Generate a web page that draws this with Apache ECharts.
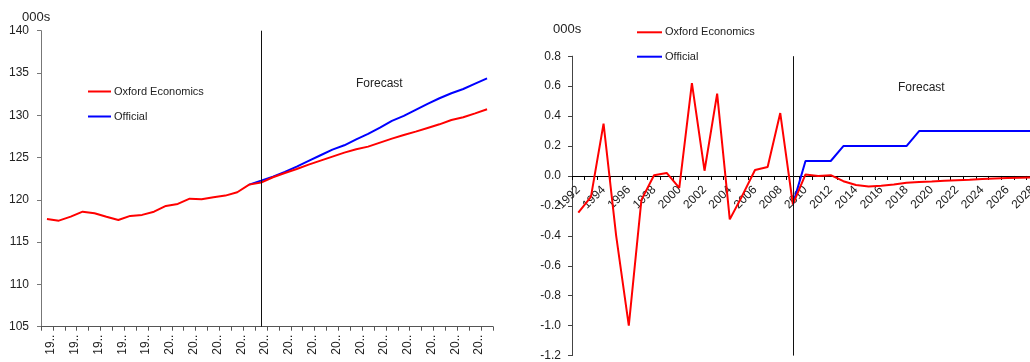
<!DOCTYPE html>
<html>
<head>
<meta charset="utf-8">
<script src="https://cdn.jsdelivr.net/npm/echarts@6/dist/echarts.min.js"></script>
<style>
  html, body { margin: 0; padding: 0; background: #fff; }
  #chart { width: 1030px; height: 362px; }
</style>
</head>
<body>
<div id="chart"></div>
<script>
// Left panel: population level (000s), 1991-2028
const levelYears = ['1991','1992','1993','1994','1995','1996','1997','1998','1999','2000',
  '2001','2002','2003','2004','2005','2006','2007','2008','2009','2010',
  '2011','2012','2013','2014','2015','2016','2017','2018','2019','2020',
  '2021','2022','2023','2024','2025','2026','2027','2028'];
const levelOxford = [117.74, 117.54, 118.01, 118.60, 118.42, 118.01, 117.62, 118.10, 118.22, 118.60,
  119.28, 119.52, 120.14, 120.07, 120.31, 120.50, 120.90, 121.80, 122.04, 122.67,
  123.18, 123.65, 124.16, 124.64, 125.11, 125.58, 125.98, 126.29, 126.77, 127.24,
  127.67, 128.07, 128.50, 128.93, 129.44, 129.76, 130.23, 130.71];
const levelOfficial = [null, null, null, null, null, null, null, null, null, null,
  null, null, null, null, null, null, null, 121.80, 122.27, 122.75,
  123.30, 123.93, 124.60, 125.27, 125.94, 126.45, 127.16, 127.79, 128.54, 129.33,
  129.92, 130.63, 131.34, 132.01, 132.60, 133.11, 133.74, 134.37];

// Right panel: annual change (000s), 1992-2028
const changeYears = ['1992','1993','1994','1995','1996','1997','1998','1999','2000',
  '2001','2002','2003','2004','2005','2006','2007','2008','2009','2010',
  '2011','2012','2013','2014','2015','2016','2017','2018','2019','2020',
  '2021','2022','2023','2024','2025','2026','2027','2028'];
const changeOxford = [-0.245, -0.14, 0.35, -0.40, -1.00, -0.16, 0.005, 0.02, -0.08,
  0.62, 0.035, 0.55, -0.29, -0.13, 0.04, 0.06, 0.42, -0.19, 0.01,
  0.0, 0.005, -0.035, -0.06, -0.07, -0.065, -0.057, -0.046, -0.04, -0.037,
  -0.032, -0.028, -0.025, -0.02, -0.017, -0.014, -0.012, -0.01];
const changeOfficial = [null, null, null, null, null, null, null, null, null,
  null, null, null, null, null, null, null, null, -0.19, 0.1,
  0.1, 0.1, 0.2, 0.2, 0.2, 0.2, 0.2, 0.2, 0.3, 0.3,
  0.3, 0.3, 0.3, 0.3, 0.3, 0.3, 0.3, 0.3];

const forecastStart = '2009';
const FONT = "'Liberation Sans', Arial, sans-serif";
const TXT = '#222';
const RED = '#ff0000';
const BLUE = '#0000ff';

// Right panel vertical geometry: the category axis sits on the zero line
const rightTop = 56.2, rightBottom = 6.4, chartH = 362;
const rightMin = -1.2, rightMax = 0.8;
const rightPlotH = chartH - rightTop - rightBottom;
const zeroOffset = -rightPlotH * (0 - rightMin) / (rightMax - rightMin);

const chart = echarts.init(document.getElementById('chart'), null, { renderer: 'canvas' });

function forecastLine() {
  return {
    symbol: 'none',
    silent: true,
    label: { show: false },
    lineStyle: { color: '#111', type: 'solid', width: 1 },
    data: [{ xAxis: forecastStart }]
  };
}

const legendBase = {
  orient: 'vertical',
  icon: 'rect',
  padding: 0,
  itemWidth: 23,
  itemHeight: 2,
  itemGap: 11,
  selectedMode: false,
  textStyle: { fontFamily: FONT, fontSize: 11, color: TXT, lineHeight: 14, padding: [0, 0, 0, -2] },
  data: ['Oxford Economics', 'Official']
};

chart.setOption({
  animation: false,
  backgroundColor: '#fff',
  textStyle: { fontFamily: FONT },
  grid: [
    { left: 41, right: 537, top: 30.7, bottom: 35.3, outerBoundsMode: 'none', containLabel: false },
    { left: 572, right: -9, top: rightTop, bottom: rightBottom, outerBoundsMode: 'none', containLabel: false }
  ],
  legend: [
    Object.assign({}, legendBase, { left: 88, top: 84.5 }),
    Object.assign({}, legendBase, { left: 637, top: 25.3, itemWidth: 25, itemGap: 10.4 })
  ],
  xAxis: [
    {
      type: 'category', gridIndex: 0, data: levelYears, boundaryGap: true,
      axisLine: { lineStyle: { color: '#555', width: 1 } },
      axisTick: { show: true, interval: 0, length: 4, lineStyle: { color: '#555' } },
      axisLabel: {
        interval: 1, rotate: 90, fontSize: 12, color: TXT, fontFamily: FONT, margin: 8,
        width: 24, overflow: 'truncate', ellipsis: '..',
        verticalAlign: 'top', lineHeight: 8
      },
      splitLine: { show: false }
    },
    {
      type: 'category', gridIndex: 1, data: changeYears, boundaryGap: true,
      offset: zeroOffset,
      axisLine: { onZero: false, lineStyle: { color: '#000', width: 1 } },
      axisTick: { show: true, interval: 0, length: 4, lineStyle: { color: '#000' } },
      axisLabel: { interval: 1, rotate: 45, fontSize: 12, color: TXT, fontFamily: FONT, margin: 12 },
      splitLine: { show: false }
    }
  ],
  yAxis: [
    {
      type: 'value', gridIndex: 0, min: 105, max: 140, interval: 5,
      axisLine: { show: true, lineStyle: { color: '#777', width: 1 } },
      axisTick: { show: true, length: 4, lineStyle: { color: '#777' } },
      axisLabel: { fontSize: 12, color: TXT, fontFamily: FONT, margin: 12 },
      splitLine: { show: false }
    },
    {
      type: 'value', gridIndex: 1, min: rightMin, max: rightMax, interval: 0.2,
      axisLine: { show: true, onZero: false, lineStyle: { color: '#444', width: 1 } },
      axisTick: { show: true, length: 4, lineStyle: { color: '#444' } },
      axisLabel: {
        fontSize: 12, color: TXT, fontFamily: FONT, margin: 11,
        formatter: v => v.toFixed(1)
      },
      splitLine: { show: false }
    }
  ],
  series: [
    {
      name: 'Oxford Economics', type: 'line', xAxisIndex: 0, yAxisIndex: 0,
      data: levelOxford, symbol: 'none', z: 3,
      lineStyle: { color: RED, width: 2 }, itemStyle: { color: RED },
      markLine: forecastLine()
    },
    {
      name: 'Official', type: 'line', xAxisIndex: 0, yAxisIndex: 0,
      data: levelOfficial, symbol: 'none', z: 2,
      lineStyle: { color: BLUE, width: 2 }, itemStyle: { color: BLUE }
    },
    {
      name: 'Oxford Economics', type: 'line', xAxisIndex: 1, yAxisIndex: 1,
      data: changeOxford, symbol: 'none', z: 3,
      lineStyle: { color: RED, width: 2 }, itemStyle: { color: RED },
      markLine: forecastLine()
    },
    {
      name: 'Official', type: 'line', xAxisIndex: 1, yAxisIndex: 1,
      data: changeOfficial, symbol: 'none', z: 2,
      lineStyle: { color: BLUE, width: 2 }, itemStyle: { color: BLUE }
    }
  ],
  graphic: [
    { type: 'text', style: { text: '000s', x: 22, y: 17, fill: TXT, font: '13px ' + FONT, verticalAlign: 'middle' } },
    { type: 'text', style: { text: '000s', x: 553, y: 29, fill: TXT, font: '13px ' + FONT, verticalAlign: 'middle' } },
    { type: 'text', style: { text: 'Forecast', x: 356, y: 83.5, fill: TXT, font: '12px ' + FONT, verticalAlign: 'middle' } },
    { type: 'text', style: { text: 'Forecast', x: 898, y: 88, fill: TXT, font: '12px ' + FONT, verticalAlign: 'middle' } }
  ]
});
</script>
</body>
</html>
